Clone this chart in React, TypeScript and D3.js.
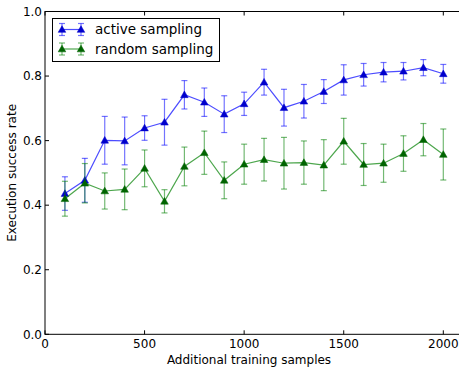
import React from 'react';
import { scaleLinear, line } from 'd3';

const samples = [100, 200, 300, 400, 500, 600, 700, 800, 900, 1000, 1100, 1200, 1300, 1400, 1500, 1600, 1700, 1800, 1900, 2000];

const activeMean = [0.436, 0.477, 0.601, 0.599, 0.639, 0.657, 0.742, 0.719, 0.682, 0.714, 0.781, 0.702, 0.722, 0.752, 0.788, 0.804, 0.812, 0.815, 0.826, 0.807];
const activeErr = [0.052, 0.068, 0.074, 0.074, 0.038, 0.071, 0.044, 0.044, 0.057, 0.036, 0.04, 0.057, 0.052, 0.037, 0.047, 0.035, 0.03, 0.027, 0.025, 0.029];

const randomMean = [0.42, 0.468, 0.444, 0.449, 0.514, 0.412, 0.52, 0.5625, 0.477, 0.527, 0.541, 0.53, 0.532, 0.524, 0.598, 0.526, 0.53, 0.56, 0.603, 0.557];
const randomErr = [0.054, 0.061, 0.056, 0.063, 0.057, 0.036, 0.06, 0.067, 0.057, 0.062, 0.066, 0.08, 0.067, 0.079, 0.071, 0.065, 0.059, 0.055, 0.05, 0.079];

const xTicks = [0, 500, 1000, 1500, 2000];
const yTicks = [0, 0.2, 0.4, 0.6, 0.8, 1.0];

const seriesNames = ['active sampling', 'random sampling'];

const W = 459;
const H = 369;
const left = 45;
const top = 11.5;
const bottom = 334.3;

const x = scaleLinear().domain([0, 2100]).range([left, left + 2100 * (398.3 / 2000)]);
const y = scaleLinear().domain([0, 1]).range([bottom, top]);
const right = x(2100);

const font = '"DejaVu Sans", sans-serif';

function tri(cx: number, cy: number, r = 3.8) {
  return `M${cx},${cy - r} L${cx + r},${cy + r * 0.75} L${cx - r},${cy + r * 0.75} Z`;
}

type S = { mean: number[]; err: number[]; line: string; marker: string; bar: string };

const series: S[] = [
  { mean: activeMean, err: activeErr, line: '#0000ff', marker: '#0000cc', bar: '#0000ff' },
  { mean: randomMean, err: randomErr, line: '#008000', marker: '#006400', bar: '#008000' },
];

function Series({ s }: { s: S }) {
  const pts = samples.map((v, i) => [x(v), y(s.mean[i])] as [number, number]);
  const path = line()(pts) || '';
  return (
    <g>
      {samples.map((v, i) => {
        const cx = x(v);
        const y1 = y(s.mean[i] + s.err[i]);
        const y2 = y(s.mean[i] - s.err[i]);
        return (
          <g key={i} stroke={s.bar} strokeOpacity={0.55} strokeWidth={1.2}>
            <line x1={cx} x2={cx} y1={y1} y2={y2} />
            <line x1={cx - 3} x2={cx + 3} y1={y1} y2={y1} />
            <line x1={cx - 3} x2={cx + 3} y1={y2} y2={y2} />
          </g>
        );
      })}
      <path d={path} fill="none" stroke={s.line} strokeOpacity={0.7} strokeWidth={1.2} />
      {pts.map((p, i) => (
        <path key={i} d={tri(p[0], p[1])} fill={s.marker} stroke={s.marker} strokeWidth={0.5} />
      ))}
    </g>
  );
}

function Legend() {
  const bx = 52.5;
  const by = 18.5;
  return (
    <g>
      <rect x={bx} y={by} width={167} height={43} fill="white" stroke="black" strokeWidth={1} />
      {series.map((s, i) => {
        const ly = 29.5 + i * 19.5;
        const x1 = 62;
        const x2 = 81;
        return (
          <g key={i}>
            <g stroke={s.bar} strokeOpacity={0.55} strokeWidth={1.2}>
              {[x1, x2].map((cx) => (
                <g key={cx}>
                  <line x1={cx} x2={cx} y1={ly - 6} y2={ly + 6} />
                  <line x1={cx - 3} x2={cx + 3} y1={ly - 6} y2={ly - 6} />
                  <line x1={cx - 3} x2={cx + 3} y1={ly + 6} y2={ly + 6} />
                </g>
              ))}
            </g>
            <line x1={x1} x2={x2} y1={ly} y2={ly} stroke={s.line} strokeOpacity={0.7} strokeWidth={1.2} />
            <path d={tri(x1, ly)} fill={s.marker} stroke={s.marker} strokeWidth={0.5} />
            <path d={tri(x2, ly)} fill={s.marker} stroke={s.marker} strokeWidth={0.5} />
            <text x={95} y={ly + 4.5} fontSize={13.5} fontFamily={font} fill="black">
              {seriesNames[i]}
            </text>
          </g>
        );
      })}
    </g>
  );
}

export default function App() {
  return (
    <svg width={W} height={H} style={{ position: 'absolute', left: 0, top: 0, background: 'white' }}>
      <rect x={0} y={0} width={W} height={H} fill="white" />
      {series.map((s, i) => (
        <Series key={i} s={s} />
      ))}
      {/* frame */}
      <rect x={left} y={top} width={right - left} height={bottom - top} fill="none" stroke="black" strokeWidth={1} />
      {xTicks.map((t) => (
        <g key={t}>
          <line x1={x(t)} x2={x(t)} y1={bottom} y2={bottom - 4} stroke="black" />
          <line x1={x(t)} x2={x(t)} y1={top} y2={top + 4} stroke="black" />
          <text x={x(t)} y={bottom + 13.5} textAnchor="middle" fontSize={12} fontFamily={font}>
            {t}
          </text>
        </g>
      ))}
      {yTicks.map((t) => (
        <g key={t}>
          <line x1={left} x2={left + 4} y1={y(t)} y2={y(t)} stroke="black" />
          <text x={left - 3} y={y(t) + 4.3} textAnchor="end" fontSize={12} fontFamily={font}>
            {t.toFixed(1)}
          </text>
        </g>
      ))}
      <Legend />
      <text x={(left + 457) / 2 - 2} y={364} textAnchor="middle" fontSize={12} fontFamily={font}>
        Additional training samples
      </text>
      <text
        transform={`translate(16,${(top + bottom) / 2}) rotate(-90)`}
        textAnchor="middle"
        fontSize={12}
        fontFamily={font}
      >
        Execution success rate
      </text>
    </svg>
  );
}
